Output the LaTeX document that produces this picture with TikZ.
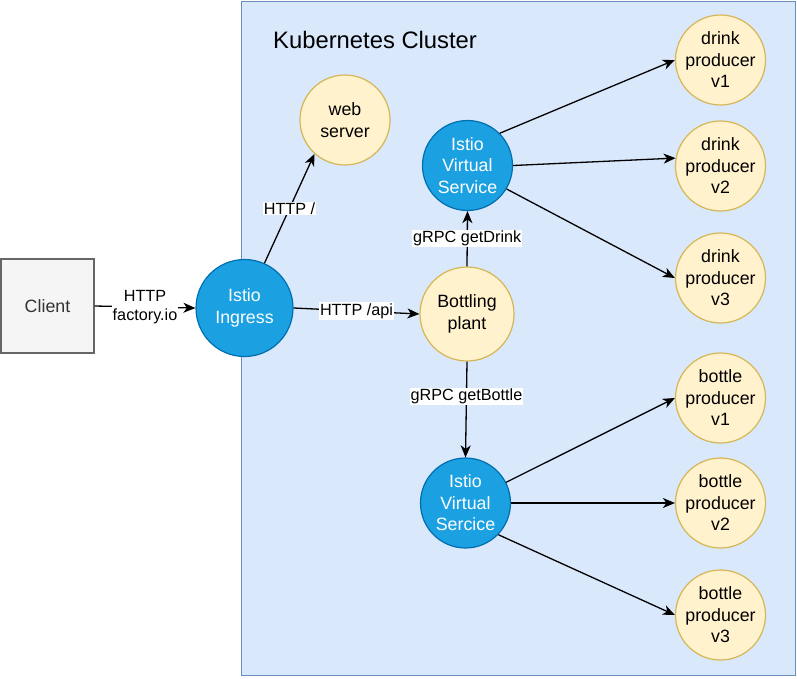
\documentclass[tikz,border=0pt]{standalone}
\usepackage{fontspec}
\setmainfont{Liberation Sans}
\usetikzlibrary{arrows.meta}
\definecolor{clfill}{HTML}{DAE8FC}
\definecolor{cldraw}{HTML}{6C8EBF}
\definecolor{bfill}{HTML}{1BA1E2}
\definecolor{bdraw}{HTML}{006EAF}
\definecolor{yfill}{HTML}{FFF2CC}
\definecolor{ydraw}{HTML}{D6B656}
\definecolor{gfill}{HTML}{F5F5F5}
\definecolor{gdraw}{HTML}{666666}
\definecolor{gtext}{HTML}{333333}
\tikzset{
  nodetext/.style={font=\fontsize{17.8}{21.5}\selectfont, align=center},
  bluec/.style={circle, nodetext, fill=bfill, draw=bdraw, line width=1.2pt, text=white, inner sep=0pt, minimum size=90pt},
  yellowc/.style={circle, nodetext, fill=yfill, draw=ydraw, line width=1.2pt, text=black, inner sep=0pt, minimum size=90pt},
  conn/.style={line width=1.3pt, -{Stealth[length=12pt,width=10pt,inset=3.5pt]}},
  lbl/.style={font=\fontsize{16.2}{19.5}\selectfont, fill=white, inner sep=1pt, align=center}
}
\begin{document}
\begin{tikzpicture}[x=1pt,y=-1pt]
\useasboundingbox (0,0) rectangle (797,678);
\node[draw=cldraw, fill=clfill, line width=1.2pt, minimum width=554pt, minimum height=674pt, inner sep=0pt, anchor=north west] (cluster) at (241,1) {};
\node[font=\fontsize{23.8}{28}\selectfont, anchor=west, inner sep=0pt] (title) at (273,40) {Kubernetes Cluster};
\node[draw=gdraw, fill=gfill, line width=1.2pt, minimum width=93pt, minimum height=94pt, inner sep=0pt, nodetext, text=gtext] (client) at (47.5,306) {Client};
\node[bluec, minimum size=97pt] (ingress) at (244.5,308) {Istio\\Ingress};
\node[yellowc] (web) at (345,120) {web\\server};
\node[bluec] (vs) at (467.5,165.5) {Istio\\Virtual\\Service};
\node[yellowc, minimum size=94pt] (plant) at (467,314) {Bottling\\plant};
\node[bluec] (vb) at (465.5,503) {Istio\\Virtual\\Sercice};
\node[yellowc] (d1) at (720.5,60) {drink\\producer\\v1};
\node[yellowc] (d2) at (720.5,166) {drink\\producer\\v2};
\node[yellowc] (d3) at (720.5,278) {drink\\producer\\v3};
\node[yellowc] (b1) at (720.5,398) {bottle\\producer\\v1};
\node[yellowc] (b2) at (720.5,503) {bottle\\producer\\v2};
\node[yellowc] (b3) at (720.5,615) {bottle\\producer\\v3};

\draw[conn] (client.east) -- node[lbl] {HTTP\\factory.io} (ingress.west);
\draw[conn] (ingress.66) -- node[lbl] {HTTP /} (web.-132);
\draw[conn] (ingress.east) -- node[lbl] {HTTP /api} (plant.west);
\draw[conn] (plant.north) -- node[lbl] {gRPC getDrink} (vs.south);
\draw[conn] (plant.south) -- node[lbl, pos=0.36] {gRPC getBottle} (vb.north);
\draw[conn] (vs.45) -- (d1.west);
\draw[conn] (vs.east) -- (d2.170);
\draw[conn] (vs.-31) -- (d3.west);
\draw[conn] (vb.27) -- (b1.west);
\draw[conn] (vb.east) -- (b2.west);
\draw[conn] (vb.-44) -- (b3.west);
\end{tikzpicture}
\end{document}
